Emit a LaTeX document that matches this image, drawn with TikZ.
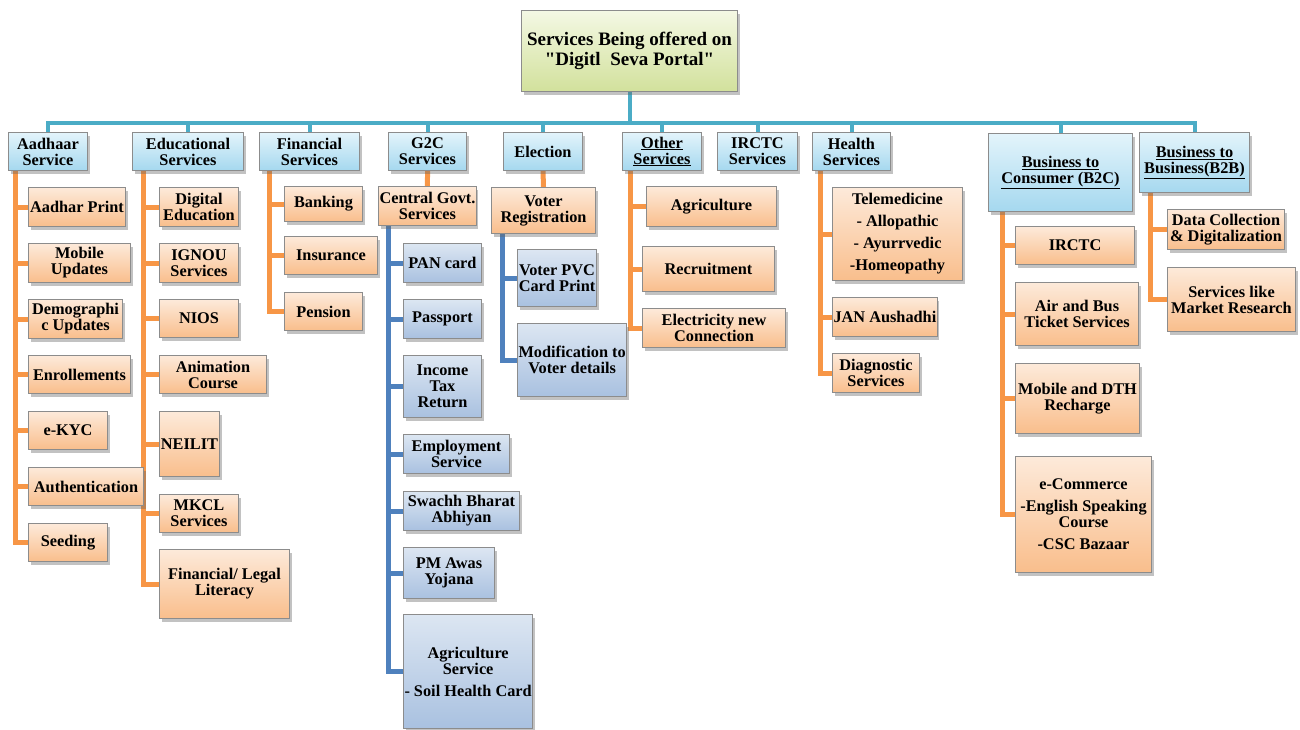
\documentclass[tikz,border=0pt]{standalone}
\usepackage{fontspec}
\setmainfont{Liberation Serif}[Ligatures=TeXOff]
\usetikzlibrary{shadows,backgrounds}

\definecolor{busblue}{HTML}{4BACC6}
\definecolor{linkorange}{HTML}{F79646}
\definecolor{linkblue}{HTML}{4F81BD}
\definecolor{edgegray}{HTML}{8C8C8C}
\definecolor{roottop}{HTML}{F4F8E4}
\definecolor{rootbot}{HTML}{D2E19C}
\definecolor{headtop}{HTML}{E3F4FB}
\definecolor{headbot}{HTML}{A5D8EF}
\definecolor{itemtop}{HTML}{FDEADA}
\definecolor{itembot}{HTML}{F9BE8C}
\definecolor{subtop}{HTML}{DCE6F2}
\definecolor{subbot}{HTML}{A9C1E0}

\tikzset{
  cellbox/.style={draw=edgegray, line width=1pt, align=center, inner sep=1pt,
    anchor=north west, font=\bfseries\fontsize{16.3}{16}\selectfont,
    drop shadow={shadow xshift=2pt, shadow yshift=-3pt, fill=black!60, opacity=.4}},
  boxsize/.style 2 args={minimum width=#1pt, minimum height=#2pt},
  rootbox/.style={cellbox, top color=roottop, bottom color=rootbot,
    font=\bfseries\fontsize{19}{20.5}\selectfont},
  headbox/.style={cellbox, top color=headtop, bottom color=headbot},
  itembox/.style={cellbox, top color=itemtop, bottom color=itembot},
  subbox/.style={cellbox, top color=subtop, bottom color=subbot},
  busline/.style={draw=busblue, line width=4pt},
  orangeline/.style={draw=linkorange, line width=5pt},
  blueline/.style={draw=linkblue, line width=5pt},
}

\begin{document}
\begin{tikzpicture}[x=1pt,y=-1pt]
  \useasboundingbox (0,0) rectangle (1300,729);

  % root
  \node[rootbox, boxsize={216}{81}] (root) at (521,10) {Services Being offered on\\"Digitl~ Seva Portal"};

  % first level
  \node[headbox, boxsize={79}{38}] (aad) at (8,132) {Aadhaar\\Service};
  \node[headbox, boxsize={111}{38}] (edu) at (132,132) {Educational\\Services};
  \node[headbox, boxsize={100}{38}] (fin) at (259,132) {Financial\\Services};
  \node[headbox, boxsize={78}{38}] (gtc) at (388,132) {G2C\\Services};
  \node[headbox, boxsize={79}{38}] (elec) at (503,132) {Election};
  \node[headbox, boxsize={79}{38}] (oth) at (622,132) {\underline{Other}\\\underline{Services}};
  \node[headbox, boxsize={80}{38}] (irc) at (717,132) {IRCTC\\Services};
  \node[headbox, boxsize={78}{38}] (hlt) at (812,132) {Health\\Services};
  \node[headbox, boxsize={144}{78}] (btc) at (988,133) {\underline{Business to}\\\underline{Consumer (B2C)}};
  \node[headbox, boxsize={110}{60}] (btb) at (1139,132) {\underline{Business to}\\\underline{Business(B2B)}};

  % aadhaar
  \node[itembox, boxsize={97}{39}] (aad1) at (28,187) {Aadhar Print};
  \node[itembox, boxsize={102}{39}] (aad2) at (28,243) {Mobile\\Updates};
  \node[itembox, boxsize={94}{39}] (aad3) at (28,299) {Demographi\\c Updates};
  \node[itembox, boxsize={102}{38}] (aad4) at (28,355) {Enrollements};
  \node[itembox, boxsize={79}{38}] (aad5) at (28,411) {e-KYC};
  \node[itembox, boxsize={115}{38}] (aad6) at (28,467) {Authentication};
  \node[itembox, boxsize={79}{38}] (aad7) at (28,523) {Seeding};

  % educational
  \node[itembox, boxsize={79}{39}] (edu1) at (159,187) {Digital\\Education};
  \node[itembox, boxsize={79}{39}] (edu2) at (159,243) {IGNOU\\Services};
  \node[itembox, boxsize={79}{38}] (edu3) at (159,299) {NIOS};
  \node[itembox, boxsize={107}{38}] (edu4) at (159,355) {Animation\\Course};
  \node[itembox, boxsize={60}{65}] (edu5) at (159,411) {NEILIT};
  \node[itembox, boxsize={79}{38}] (edu6) at (159,494) {MKCL\\Services};
  \node[itembox, boxsize={130}{69}] (edu7) at (159,549) {Financial/ Legal\\Literacy};

  % financial
  \node[itembox, boxsize={78}{35}] (fin1) at (284,186) {Banking};
  \node[itembox, boxsize={93}{38}] (fin2) at (284,236) {Insurance};
  \node[itembox, boxsize={78}{38}] (fin3) at (284,292) {Pension};

  % g2c
  \node[itembox, boxsize={97}{39}] (cgov) at (378,186) {Central Govt.\\Services};
  \node[subbox, boxsize={78}{39}] (gtc1) at (403,243) {PAN card};
  \node[subbox, boxsize={78}{39}] (gtc2) at (403,299) {Passport};
  \node[subbox, boxsize={78}{62}] (gtc3) at (403,355) {Income\\Tax\\Return};
  \node[subbox, boxsize={106}{39}] (gtc4) at (403,434) {Employment\\Service};
  \node[subbox, boxsize={116}{39}] (gtc5) at (403,491) {Swachh Bharat\\Abhiyan};
  \node[subbox, boxsize={91}{51}] (gtc6) at (403,547) {PM Awas\\Yojana};
  \node[subbox, boxsize={124}{114}] (gtc7) at (403,614) {Agriculture\\Service\\[6pt]- Soil Health Card};

  % election
  \node[itembox, boxsize={104}{46}] (voter) at (491,187) {Voter\\Registration};
  \node[subbox, boxsize={79}{57}] (elec1) at (517,249) {Voter PVC\\Card Print};
  \node[subbox, boxsize={108}{73}] (elec2) at (517,323) {Modification to\\Voter details};

  % other services
  \node[itembox, boxsize={130}{40}] (oth1) at (646,186) {Agriculture};
  \node[itembox, boxsize={132}{45}] (oth2) at (642,246) {Recruitment};
  \node[itembox, boxsize={143}{39}] (oth3) at (642,308) {Electricity new\\Connection};

  % health
  \node[itembox, boxsize={130}{93}] (hlt1) at (832,187) {Telemedicine\\[6pt]- Allopathic\\[6pt]- Ayurrvedic\\[6pt]-Homeopathy};
  \node[itembox, boxsize={101}{39}] (hlt2) at (832,297) {JAN Aushadhi};
  \node[itembox, boxsize={87}{39}] (hlt3) at (832,353) {Diagnostic\\Services};

  % b2c
  \node[itembox, boxsize={119}{38}] (btc1) at (1015,226) {IRCTC};
  \node[itembox, boxsize={123}{63}] (btc2) at (1015,282) {Air and Bus\\Ticket Services};
  \node[itembox, boxsize={124}{70}] (btc3) at (1015,363) {Mobile and DTH\\Recharge};
  \node[itembox, boxsize={136}{116}] (btc4) at (1015,456) {e-Commerce\\[6pt]-English Speaking\\Course\\[6pt]-CSC Bazaar};

  % b2b
  \node[itembox, boxsize={117}{40}] (btb1) at (1167,209) {Data Collection\\\& Digitalization};
  \node[itembox, boxsize={128}{64}] (btb2) at (1167,267) {Services like\\Market Research};

  \begin{scope}[on background layer]
    \coordinate (bus) at (629,123);
    \foreach \h in {aad,edu,fin,gtc,elec,oth,irc,hlt,btc,btb}
      \draw[busline] (root.south) -- (root.south |- bus) -| (\h.north);

    \foreach \i in {1,...,7}
      \draw[orangeline] ([xshift=7pt]aad.south west) |- (aad\i.west);
    \foreach \i in {1,...,7}
      \draw[orangeline] ([xshift=11pt]edu.south west) |- (edu\i.west);
    \foreach \i in {1,...,3}
      \draw[orangeline] ([xshift=10pt]fin.south west) |- (fin\i.west);
    \draw[orangeline] (gtc.south) -- (cgov.north);
    \foreach \i in {1,...,7}
      \draw[blueline] ([xshift=10pt]cgov.south west) |- (gtc\i.west);
    \draw[orangeline] (elec.south) -- (voter.north);
    \foreach \i in {1,2}
      \draw[blueline] ([xshift=11pt]voter.south west) |- (elec\i.west);
    \foreach \i in {1,...,3}
      \draw[orangeline] ([xshift=8pt]oth.south west) |- (oth\i.west);
    \foreach \i in {1,...,3}
      \draw[orangeline] ([xshift=8pt]hlt.south west) |- (hlt\i.west);
    \foreach \i in {1,...,4}
      \draw[orangeline] ([xshift=14pt]btc.south west) |- (btc\i.west);
    \foreach \i in {1,2}
      \draw[orangeline] ([xshift=11pt]btb.south west) |- (btb\i.west);
  \end{scope}
\end{tikzpicture}
\end{document}
